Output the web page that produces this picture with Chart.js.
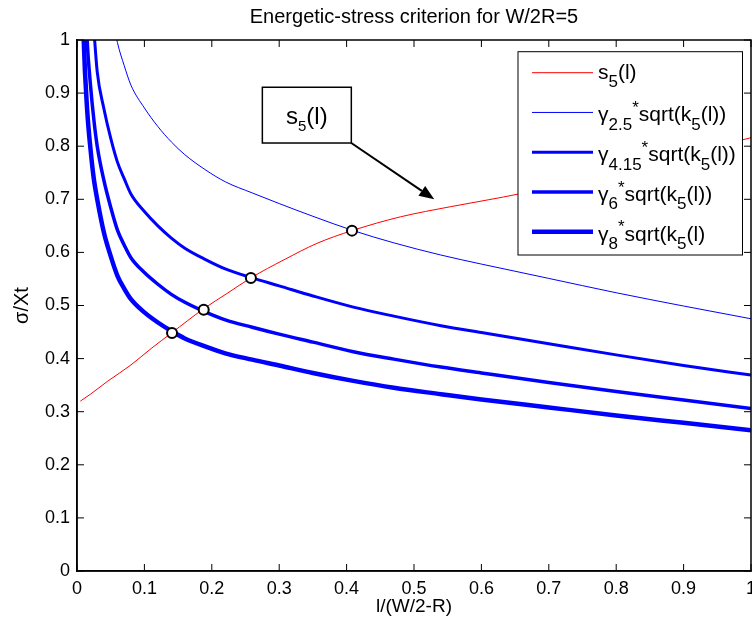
<!DOCTYPE html>
<html>
<head>
<meta charset="utf-8">
<script src="https://cdn.jsdelivr.net/npm/chart.js@4.4.0/dist/chart.umd.min.js"></script>
<style>
  html, body { margin: 0; padding: 0; background: #fff; overflow: hidden; }
  #wrap { width: 780px; height: 630px; }
</style>
</head>
<body>
<div id="wrap"><canvas id="chart" width="780" height="630"></canvas></div>
<script>
const FONT = "'Liberation Sans', Arial, sans-serif";

// l/(W/2-R) samples shared by the four gamma curves
const lengthRatio = [0.005, 0.01, 0.015, 0.02, 0.025, 0.03, 0.04, 0.05, 0.06, 0.07, 0.08, 0.1, 0.12, 0.14,
    0.16, 0.19, 0.22, 0.26, 0.3, 0.35, 0.41, 0.47, 0.54, 0.6, 0.7, 0.8, 0.9, 1.0];
const gamma25 = [2.3, 1.8, 1.56, 1.42, 1.32, 1.25, 1.14, 1.06, 0.995, 0.952, 0.915, 0.872, 0.837, 0.808,
    0.784, 0.756, 0.733, 0.712, 0.692, 0.668, 0.641, 0.618, 0.595, 0.578, 0.551, 0.524, 0.499, 0.475];
const gamma415 = [1.78, 1.40, 1.21, 1.10, 1.02, 0.94, 0.87, 0.815, 0.77, 0.739, 0.71, 0.677, 0.65, 0.627,
    0.608, 0.587, 0.569, 0.552, 0.537, 0.518, 0.497, 0.48, 0.462, 0.449, 0.428, 0.407, 0.387, 0.369];
const gamma6 = [1.48, 1.16, 1.0, 0.915, 0.85, 0.80, 0.735, 0.685, 0.642, 0.614, 0.59, 0.562, 0.54, 0.521,
    0.506, 0.488, 0.473, 0.459, 0.446, 0.431, 0.413, 0.399, 0.384, 0.373, 0.355, 0.338, 0.322, 0.306];
const gamma8 = [1.29, 1.0, 0.87, 0.795, 0.738, 0.70, 0.637, 0.593, 0.556, 0.532, 0.512, 0.487, 0.468, 0.452,
    0.438, 0.423, 0.41, 0.398, 0.387, 0.373, 0.358, 0.345, 0.333, 0.323, 0.308, 0.293, 0.279, 0.265];

// s5(l) curve
const s5Ratio = [0.005, 0.02, 0.045, 0.08, 0.11, 0.14, 0.187, 0.223, 0.258, 0.307, 0.356, 0.408, 0.48,
    0.554, 0.61, 0.655, 0.75, 0.85, 0.95, 1.0];
const s5Stress = [0.32, 0.333, 0.357, 0.388, 0.419, 0.448, 0.493, 0.523, 0.552, 0.586, 0.617, 0.641, 0.667,
    0.686, 0.699, 0.71, 0.74, 0.77, 0.8, 0.816];

// intersections marked with circles
const crossRatio = [0.141, 0.188, 0.258, 0.408];
const crossStress = [0.448, 0.492, 0.552, 0.641];

const tickValues = [0, 0.1, 0.2, 0.3, 0.4, 0.5, 0.6, 0.7, 0.8, 0.9, 1];
const tickLabels = ['0', '0.1', '0.2', '0.3', '0.4', '0.5', '0.6', '0.7', '0.8', '0.9', '1'];

const seriesLabels = ['s_{5}(l)', 'γ_{2.5}^{*}sqrt(k_{5}(l))', 'γ_{4.15}^{*}sqrt(k_{5}(l))',
    'γ_{6}^{*}sqrt(k_{5}(l))', 'γ_{8}^{*}sqrt(k_{5}(l)'];
const titleText = 'Energetic-stress criterion for W/2R=5';
const xTitle = 'l/(W/2-R)';
const yTitle = 'σ/Xt';

const lineStyles = [
    { color: '#ff0000', width: 1 },
    { color: '#0000ff', width: 1 },
    { color: '#0000ff', width: 3 },
    { color: '#0000ff', width: 3.5 },
    { color: '#0000ff', width: 4.5 }
];

// text box with arrow, in data units
const callout = { text: 's_{5}(l)', x0: 0.275, y0: 0.911, x1: 0.407, y1: 0.806, tipX: 0.53, tipY: 0.70 };

const toPoints = (xs, ys) => xs.map((x, i) => ({ x, y: ys[i] }));

// tiny TeX-ish parser: _{..} subscript, ^{..} superscript
function parseTex(str) {
    const parts = [];
    let buf = '', i = 0;
    const flush = () => { if (buf) { parts.push({ t: buf, k: 0 }); buf = ''; } };
    while (i < str.length) {
        const c = str[i];
        if (c === '_' || c === '^') {
            flush();
            let t;
            if (str[i + 1] === '{') {
                const end = str.indexOf('}', i);
                t = str.slice(i + 2, end);
                i = end + 1;
            } else {
                t = str[i + 1];
                i += 2;
            }
            parts.push({ t, k: c === '_' ? 1 : -1 });
        } else {
            buf += c;
            i++;
        }
    }
    flush();
    return parts;
}

function texWidth(ctx, str, size, subSize) {
    let w = 0;
    parseTex(str).forEach(p => {
        ctx.font = `${p.k ? subSize : size}px ${FONT}`;
        w += ctx.measureText(p.t).width;
    });
    return w;
}

function drawTex(ctx, str, x, y, size, subSize, subDrop = 0.3) {
    ctx.textAlign = 'left';
    ctx.textBaseline = 'alphabetic';
    parseTex(str).forEach(p => {
        ctx.font = `${p.k ? subSize : size}px ${FONT}`;
        const dy = p.k === 1 ? size * subDrop : p.k === -1 ? -size * 0.4 : 0;
        ctx.fillText(p.t, x, y + dy);
        x += ctx.measureText(p.t).width;
    });
}

const matlabFrame = {
    id: 'matlabFrame',
    afterDatasetsDraw(chart) {
        const { ctx, chartArea: a, scales: { x, y } } = chart;
        ctx.save();
        ctx.strokeStyle = '#000';
        ctx.fillStyle = '#000';

        // inward ticks on all four sides
        ctx.lineWidth = 1;
        ctx.beginPath();
        tickValues.forEach(v => {
            const px = x.getPixelForValue(v), py = y.getPixelForValue(v);
            ctx.moveTo(px, a.bottom); ctx.lineTo(px, a.bottom - 7);
            ctx.moveTo(px, a.top); ctx.lineTo(px, a.top + 7);
            ctx.moveTo(a.left, py); ctx.lineTo(a.left + 7, py);
            ctx.moveTo(a.right, py); ctx.lineTo(a.right - 7, py);
        });
        ctx.stroke();
        ctx.lineWidth = 1.5;
        ctx.strokeRect(a.left, a.top, a.right - a.left, a.bottom - a.top);

        // title over the plot box
        ctx.font = `20px ${FONT}`;
        ctx.textAlign = 'center';
        ctx.textBaseline = 'middle';
        ctx.fillText(titleText, (a.left + a.right) / 2, 17);

        // legend
        const lx = a.right - 233, ly = a.top + 11.7, lw = 224.5, lh = 203.3;
        ctx.fillStyle = '#fff';
        ctx.fillRect(lx, ly, lw, lh);
        ctx.lineWidth = 1;
        ctx.strokeRect(lx, ly, lw, lh);
        seriesLabels.forEach((label, i) => {
            const ry = ly + 21 + i * 39.75;
            ctx.strokeStyle = lineStyles[i].color;
            ctx.lineWidth = lineStyles[i].width;
            ctx.beginPath();
            ctx.moveTo(lx + 14, ry);
            ctx.lineTo(lx + 75, ry);
            ctx.stroke();
            ctx.fillStyle = '#000';
            drawTex(ctx, label, lx + 80, ry + (label.includes('^') ? 9 : 6), 21, 17, 0.4);
        });

        // callout box and arrow
        const bx0 = x.getPixelForValue(callout.x0), by0 = y.getPixelForValue(callout.y0);
        const bx1 = x.getPixelForValue(callout.x1), by1 = y.getPixelForValue(callout.y1);
        ctx.fillStyle = '#fff';
        ctx.fillRect(bx0, by0, bx1 - bx0, by1 - by0);
        ctx.strokeStyle = '#000';
        ctx.lineWidth = 1.5;
        ctx.strokeRect(bx0, by0, bx1 - bx0, by1 - by0);
        ctx.fillStyle = '#000';
        const tw = texWidth(ctx, callout.text, 24, 15);
        drawTex(ctx, callout.text, (bx0 + bx1 - tw) / 2, (by0 + by1) / 2 + 9, 24, 15);

        const tx = x.getPixelForValue(callout.tipX), ty = y.getPixelForValue(callout.tipY);
        const ang = Math.atan2(ty - by1, tx - bx1);
        const head = 15, half = 6;
        const bxh = tx - head * Math.cos(ang), byh = ty - head * Math.sin(ang);
        ctx.lineWidth = 2;
        ctx.beginPath();
        ctx.moveTo(bx1, by1);
        ctx.lineTo(bxh, byh);
        ctx.stroke();
        ctx.beginPath();
        ctx.moveTo(tx, ty);
        ctx.lineTo(bxh + half * Math.sin(ang), byh - half * Math.cos(ang));
        ctx.lineTo(bxh - half * Math.sin(ang), byh + half * Math.cos(ang));
        ctx.closePath();
        ctx.fill();
        ctx.restore();
    }
};

const curves = [
    toPoints(s5Ratio, s5Stress),
    toPoints(lengthRatio, gamma25),
    toPoints(lengthRatio, gamma415),
    toPoints(lengthRatio, gamma6),
    toPoints(lengthRatio, gamma8)
];

const datasets = [{
    label: 'crossings',
    data: toPoints(crossRatio, crossStress),
    showLine: false,
    pointRadius: 5,
    pointBorderWidth: 2,
    pointBorderColor: '#000',
    pointBackgroundColor: '#fff',
    order: 0
}].concat(curves.map((data, i) => ({
    label: seriesLabels[i],
    data,
    borderColor: lineStyles[i].color,
    borderWidth: lineStyles[i].width,
    pointRadius: 0,
    cubicInterpolationMode: 'monotone',
    clip: 0,
    order: i + 1
})));

const tickFont = { family: FONT, size: 18 };

new Chart(document.getElementById('chart').getContext('2d'), {
    type: 'line',
    data: { datasets },
    options: {
        responsive: false,
        animation: false,
        devicePixelRatio: 1,
        layout: { padding: { top: 40, right: 29, left: 0, bottom: 0 } },
        plugins: {
            legend: { display: false },
            tooltip: { enabled: false },
            title: { display: false }
        },
        scales: {
            x: {
                type: 'linear', min: 0, max: 1,
                afterBuildTicks: s => { s.ticks = tickValues.map(value => ({ value })); },
                afterFit: s => { s.height = 59; },
                grid: { display: false, drawTicks: false },
                border: { display: true, color: '#000', width: 1.5 },
                ticks: {
                    color: '#000', font: tickFont, padding: 7, maxRotation: 0, autoSkip: false,
                    callback: v => tickLabels[tickValues.indexOf(v)]
                },
                title: { display: true, text: xTitle, color: '#000', font: { family: FONT, size: 19 }, padding: { top: 0, bottom: 12 } }
            },
            y: {
                type: 'linear', min: 0, max: 1,
                afterBuildTicks: s => { s.ticks = tickValues.map(value => ({ value })); },
                afterFit: s => { s.width = 77; },
                grid: { display: false, drawTicks: false },
                border: { display: true, color: '#000', width: 1.5 },
                ticks: {
                    color: '#000', font: tickFont, padding: 7, autoSkip: false,
                    callback: v => tickLabels[tickValues.indexOf(v)]
                },
                title: { display: true, text: yTitle, color: '#000', font: { family: FONT, size: 20 }, padding: { top: 10, bottom: 0 } }
            }
        }
    },
    plugins: [matlabFrame]
});
</script>
</body>
</html>
